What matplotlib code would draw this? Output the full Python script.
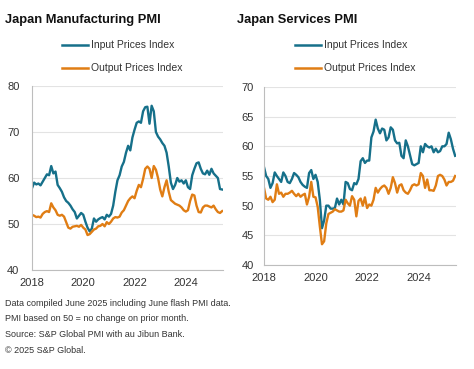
import numpy as np
import pandas as pd
import matplotlib
matplotlib.use('Agg')
import matplotlib.pyplot as plt

plt.rcParams['font.family'] = ['Liberation Sans', 'DejaVu Sans']

# monthly data, Jan 2018 - Jun 2025
mfg_input = [
    57.8, 59.0, 58.6, 58.8, 58.4, 59.2, 60.0, 60.8, 60.6, 62.6, 61.0, 61.4,
    58.5, 57.8, 57.0, 55.8, 55.0, 54.6, 54.0, 53.2, 52.6, 51.2, 51.8, 52.4,
    52.0, 50.5, 49.2, 48.4, 49.0, 51.2, 50.5, 51.0, 51.3, 51.5, 51.0, 52.0,
    51.6, 52.2, 54.0, 57.0, 59.5, 60.6, 62.5, 63.5, 65.5, 67.0, 66.0, 68.8,
    70.5, 72.0, 72.3, 72.0, 74.5, 75.4, 75.5, 71.8, 75.7, 74.5, 70.0, 69.0,
    68.4, 67.6, 67.0, 65.5, 62.5, 59.0, 57.6, 58.5, 60.0, 59.2, 59.5, 58.8,
    59.5, 58.0, 57.6, 60.6, 62.0, 63.2, 63.4, 62.0, 61.0, 60.8, 61.6, 60.7,
    62.0, 61.0, 60.5, 60.0, 57.6, 57.5,
]
mfg_output = [
    52.0, 51.8, 51.5, 51.6, 51.4, 52.2, 52.6, 52.8, 52.6, 54.5, 53.6, 53.0,
    52.0, 51.8, 52.0, 51.6, 50.4, 49.2, 49.0, 49.4, 49.5, 49.6, 49.4, 49.8,
    49.2, 48.8, 47.6, 47.8, 48.3, 48.8, 49.0, 49.5, 49.6, 50.0, 49.5, 50.4,
    50.0, 50.5, 51.2, 51.5, 51.4, 51.6, 52.5, 53.0, 54.0, 55.0, 55.6, 56.0,
    55.6, 57.2, 58.5, 58.0, 59.8, 62.0, 62.5, 62.0, 60.0, 62.6, 61.8, 60.0,
    57.5, 56.0, 58.0, 59.5, 57.0, 55.2, 54.8, 54.4, 54.2, 54.0, 53.6, 53.0,
    52.7, 53.0, 55.0, 56.4, 56.2, 54.0, 52.6, 52.5, 53.6, 54.0, 54.0, 53.8,
    53.6, 54.0, 53.2, 52.6, 52.4, 52.8,
]
svc_input = [
    56.5, 55.0, 54.5, 53.0, 53.8, 55.6, 55.0, 54.5, 54.0, 55.6, 55.0, 54.0,
    53.8, 54.5, 55.5, 55.2, 54.8, 54.0, 53.5, 53.2, 53.0, 55.5, 56.0, 54.5,
    55.2, 54.0, 51.0, 46.2, 47.5, 50.0, 50.0, 49.5, 49.5, 49.6, 51.2, 50.2,
    51.0, 50.2, 54.0, 53.8, 52.8, 52.6, 53.8, 53.6, 54.5, 57.5, 58.0, 57.2,
    57.6, 57.6, 61.5, 62.5, 64.5, 63.0, 62.2, 63.0, 62.8, 61.0, 61.5, 63.2,
    62.8, 61.0, 60.5, 60.6, 58.4, 58.0, 61.0, 60.0, 58.5, 57.0, 56.8, 57.0,
    57.2, 60.0, 59.0, 60.4, 60.0, 59.8, 60.0, 59.0, 59.6, 59.0, 59.2, 60.0,
    60.0, 60.4, 62.3, 61.2, 59.6, 58.4,
]
svc_output = [
    53.0, 51.2, 51.0, 51.5, 50.6, 51.0, 53.6, 52.0, 52.2, 51.5, 52.0, 52.0,
    52.2, 52.5, 52.0, 51.6, 52.0, 51.5, 51.8, 52.0, 50.2, 51.5, 54.0, 51.5,
    51.4, 49.8, 46.5, 43.5, 44.0, 47.0, 48.6, 48.8, 49.0, 49.4, 49.2, 49.0,
    49.0, 49.2, 51.0, 50.4, 50.0, 51.6, 51.0, 48.2, 50.8, 51.2, 50.0, 51.4,
    49.6, 50.2, 50.0, 51.0, 53.0, 52.2, 52.8, 53.2, 53.4, 53.0, 52.0, 53.0,
    54.8, 53.8, 52.2, 53.4, 53.6, 52.6, 52.2, 52.0, 52.6, 53.4, 53.6, 53.4,
    53.6, 55.5, 55.0, 53.0, 54.4, 52.6, 52.6, 52.5, 53.4, 55.0, 55.2, 55.0,
    54.4, 53.4, 54.0, 54.0, 54.2, 55.0,
]
years = [2018, 2020, 2022, 2024]
notes = [
    'Data compiled June 2025 including June flash PMI data.',
    'PMI based on 50 = no change on prior month.',
    'Source: S&P Global PMI with au Jibun Bank.',
    '\u00a9 2025 S&P Global.',
]

dates = pd.date_range('2018-01-01', periods=len(mfg_input), freq='MS')
t = dates.year + (dates.month - 1) / 12

BLUE = '#16708a'
ORANGE = '#e07d14'
TXT = '#333333'

fig = plt.figure(figsize=(4.74, 3.69), dpi=100)

def panel(rect, inp, out, ylim, yticks, title, title_x, leg_x, ypad):
    ax = fig.add_axes(rect)
    ax.plot(t, inp, color=BLUE, lw=1.7, solid_joinstyle='round')
    ax.plot(t, out, color=ORANGE, lw=1.7, solid_joinstyle='round')
    ax.set_xlim(2018, 2025.45)
    ax.set_ylim(*ylim)
    ax.set_yticks(yticks)
    ax.set_xticks(years)
    ax.set_xticklabels([str(y) for y in years])
    ax.grid(axis='y', color='#e3e3e3', lw=0.8)
    ax.set_axisbelow(True)
    for s in ['top', 'right']:
        ax.spines[s].set_visible(False)
    ax.spines['left'].set_color('#bdbdbd')
    ax.spines['bottom'].set_color('#bdbdbd')
    ax.tick_params(length=0, labelsize=8, colors=TXT)
    ax.tick_params(axis='y', pad=ypad)
    ax.tick_params(axis='x', pad=5.5)
    fig.text(title_x, 1 - 20 / 369, title, fontsize=9.3, fontweight='bold',
             color='#111111', va='center')
    for yy, c, lab in [(45, BLUE, 'Input Prices Index'), (68, ORANGE, 'Output Prices Index')]:
        fig.add_artist(plt.Line2D([leg_x / 474, (leg_x + 26) / 474],
                                  [1 - yy / 369, 1 - yy / 369], color=c, lw=1.8))
        fig.text((leg_x + 29) / 474, 1 - yy / 369, lab, fontsize=7.5, color=TXT,
                 va='center')
    return ax

panel([32 / 474, 99 / 369, 191 / 474, 184 / 369], mfg_input, mfg_output,
      (40, 80), [40, 50, 60, 70, 80], 'Japan Manufacturing PMI', 5 / 474, 62, 9)
panel([264 / 474, 104 / 369, 192 / 474, 178 / 369], svc_input, svc_output,
      (40, 70), [40, 45, 50, 55, 60, 65, 70], 'Japan Services PMI', 237 / 474, 295, 7.5)

for i, n in enumerate(notes):
    fig.text(5 / 474, 1 - (303 + i * 15.7) / 369, n, fontsize=6.5, color=TXT, va='center')

fig.savefig('out.png', dpi=100)
